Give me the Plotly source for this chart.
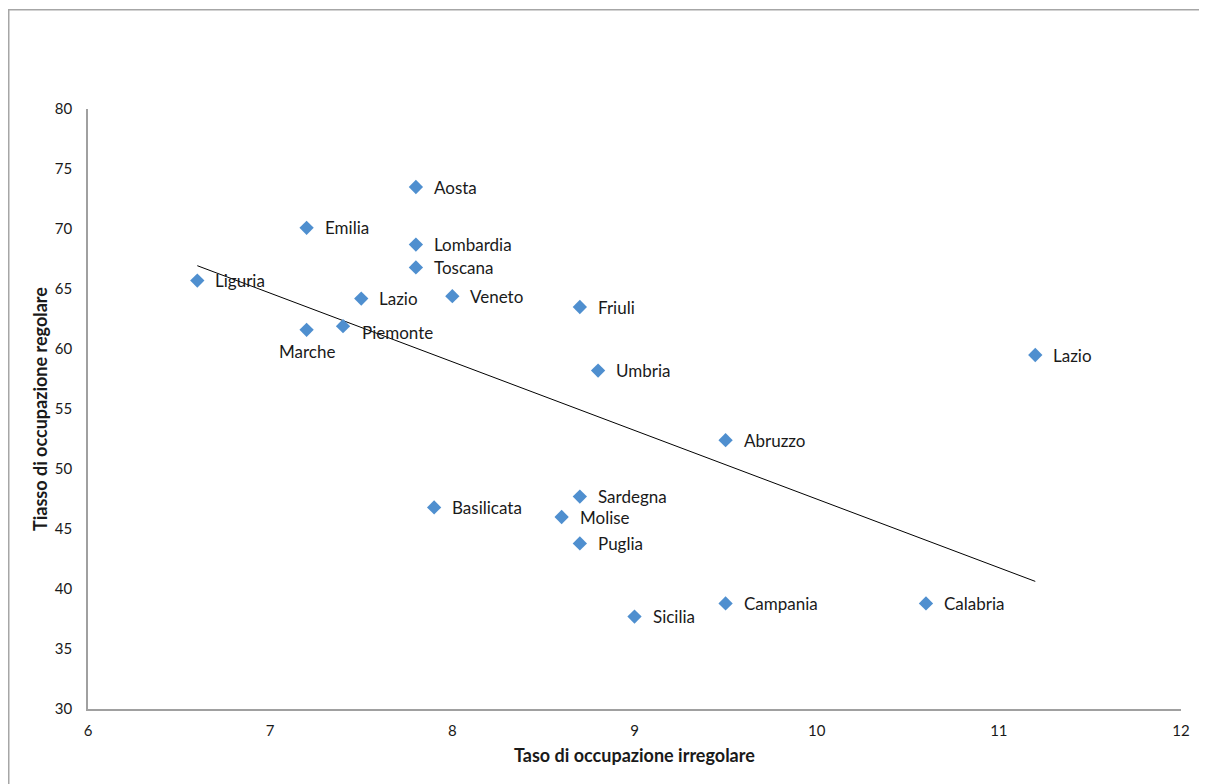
import numpy as np
import plotly.graph_objects as go

regions = ["Aosta", "Emilia", "Lombardia", "Toscana", "Liguria", "Lazio", "Veneto", "Friuli",
           "Marche", "Piemonte", "Lazio", "Umbria", "Abruzzo", "Sardegna", "Basilicata",
           "Molise", "Puglia", "Campania", "Calabria", "Sicilia"]
irregolare = [7.8, 7.2, 7.8, 7.8, 6.6, 7.5, 8.0, 8.7, 7.2, 7.4, 11.2, 8.8, 9.5, 8.7, 7.9,
              8.6, 8.7, 9.5, 10.6, 9.0]
regolare = [73.5, 70.1, 68.7, 66.8, 65.7, 64.2, 64.4, 63.5, 61.6, 61.9, 59.5, 58.2, 52.4,
            47.7, 46.8, 46.0, 43.8, 38.8, 38.8, 37.7]

x_title = "Taso di occupazione irregolare"
y_title = "Tiasso di occupazione regolare"

FONT = "Lato"
BLUE = "#4F8FCF"
TXT = "#1a1a1a"

fig = go.Figure()

# linear trendline computed from the data
slope, intercept = np.polyfit(irregolare, regolare, 1)
xt = [min(irregolare), max(irregolare)]
yt = [slope * v + intercept for v in xt]
fig.add_trace(go.Scatter(x=xt, y=yt, mode="lines", line=dict(color="black", width=1),
                         hoverinfo="skip", showlegend=False))

fig.add_trace(go.Scatter(x=irregolare, y=regolare, mode="markers",
                         marker=dict(symbol="diamond", size=11, color=BLUE),
                         text=regions, showlegend=False))

# label placement (pixel shifts relative to marker)
special = {8: dict(xanchor="center", yanchor="middle", xshift=0, yshift=-22),
           9: dict(xanchor="left", yanchor="middle", xshift=17, yshift=-6)}
for i, (name, xv, yv) in enumerate(zip(regions, irregolare, regolare)):
    opts = special.get(i, dict(xanchor="left", yanchor="middle", xshift=16, yshift=0))
    fig.add_annotation(x=xv, y=yv, text=name, showarrow=False,
                       font=dict(family=FONT, size=17, color=TXT), **opts)

# axis titles
fig.add_annotation(xref="paper", yref="paper", x=0.5, y=-0.0767, yanchor="middle",
                   text="<b>" + x_title + "</b>", showarrow=False,
                   font=dict(family=FONT, size=18, color=TXT))
fig.add_annotation(xref="paper", yref="paper", x=-0.0439, y=0.5, xanchor="center",
                   yanchor="middle",
                   text="<b>" + y_title + "</b>", showarrow=False, textangle=-90,
                   font=dict(family=FONT, size=18, color=TXT))

# outer chart border
fig.add_shape(type="rect", xref="paper", yref="paper", x0=-0.0725, y0=-0.3, x1=1.2, y1=1.1655,
              line=dict(color="#A6A6A6", width=1.5), layer="below")

fig.update_xaxes(range=[6, 12], tickvals=[6, 7, 8, 9, 10, 11, 12], showgrid=False,
                 zeroline=False, showline=True, linecolor="#A0A0A0", linewidth=1.5,
                 ticks="", ticklabelstandoff=7,
                 tickfont=dict(family=FONT, size=15, color=TXT))
fig.update_yaxes(range=[30, 80], tickvals=list(range(30, 81, 5)), showgrid=False,
                 zeroline=False, showline=True, linecolor="#A0A0A0", linewidth=1.5,
                 ticks="", ticklabelstandoff=11,
                 tickfont=dict(family=FONT, size=15, color=TXT))

fig.update_layout(width=1199, height=776, plot_bgcolor="white", paper_bgcolor="white",
                  margin=dict(l=80, r=26, t=101, b=75), showlegend=False)

fig.write_html("out.html")
